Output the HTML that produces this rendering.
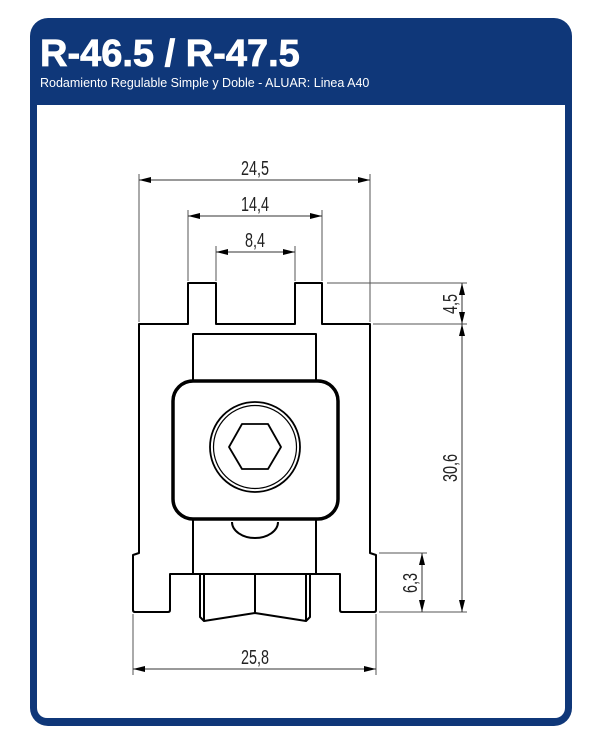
<!DOCTYPE html>
<html><head><meta charset="utf-8"><style>
html,body{margin:0;padding:0;background:#fff;width:600px;height:750px;overflow:hidden}
</style></head><body>
<svg width="600" height="750" viewBox="0 0 600 750" xmlns="http://www.w3.org/2000/svg">
<defs>
<marker id="a" viewBox="0 0 12 6" refX="12" refY="3" markerWidth="12" markerHeight="6" orient="auto-start-reverse" markerUnits="userSpaceOnUse"><path d="M0,0 L12,3 L0,6 Z" fill="#000"/></marker>
</defs>
<rect x="30" y="18" width="542" height="708" rx="18" fill="#0f3779"/>
<rect x="37" y="105" width="528" height="613" rx="10" fill="#fff"/>
<rect x="37" y="105" width="528" height="20" fill="#fff"/>
<text x="40" y="66" font-family="Liberation Sans, sans-serif" font-weight="bold" font-size="38" fill="#fff" stroke="#fff" stroke-width="0.8">R-46.5 / R-47.5</text>
<text x="40" y="87" font-family="Liberation Sans, sans-serif" font-size="12.5" fill="#fff">Rodamiento Regulable Simple y Doble - ALUAR: Linea A40</text>

<g stroke="#555" stroke-width="1" fill="none">
<line x1="139" y1="174" x2="139" y2="322"/>
<line x1="370" y1="174" x2="370" y2="322"/>
<line x1="188" y1="210" x2="188" y2="281"/>
<line x1="322" y1="210" x2="322" y2="281"/>
<line x1="216" y1="246" x2="216" y2="281"/>
<line x1="295" y1="246" x2="295" y2="281"/>
<line x1="133" y1="614" x2="133" y2="675"/>
<line x1="376" y1="614" x2="376" y2="675"/>
<line x1="327" y1="283" x2="467" y2="283"/>
<line x1="373" y1="324" x2="467" y2="324"/>
<line x1="379" y1="553" x2="427" y2="553"/>
<line x1="379" y1="612" x2="467" y2="612"/>
</g>
<g stroke="#333" stroke-width="1" marker-start="url(#a)" marker-end="url(#a)">
<line x1="139" y1="180" x2="370" y2="180"/>
<line x1="188" y1="216" x2="322" y2="216"/>
<line x1="216" y1="252" x2="295" y2="252"/>
<line x1="133" y1="669" x2="376" y2="669"/>
<line x1="462" y1="283" x2="462" y2="324"/>
<line x1="462" y1="324" x2="462" y2="612"/>
<line x1="422" y1="553" x2="422" y2="612"/>
</g>
<g font-family="Liberation Sans, sans-serif" font-size="20" fill="#222" text-anchor="middle">
<text transform="translate(255,175) scale(0.72,1)">24,5</text>
<text transform="translate(255,211) scale(0.72,1)">14,4</text>
<text transform="translate(255,247) scale(0.72,1)">8,4</text>
<text transform="translate(255,664) scale(0.72,1)">25,8</text>
<text transform="translate(457,304) rotate(-90) scale(0.72,1)">4,5</text>
<text transform="translate(457,468) rotate(-90) scale(0.72,1)">30,6</text>
<text transform="translate(417,583) rotate(-90) scale(0.72,1)">6,3</text>
</g>

<g stroke="#000" fill="none" stroke-width="2" stroke-linejoin="round">
<path d="M139,553 L139,324 L188,324 L188,283 L216,283 L216,324 L295,324 L295,283 L322,283 L322,324 L370,324 L370,553 L376,555 L376,610 Q376,612 374,612 L342,612 Q340,612 340,610 L340,574 L170,574 L170,610 Q170,612 168,612 L135,612 Q133,612 133,610 L133,555 Z"/>
<path d="M193,381 L193,334 L316,334 L316,381"/>
<line x1="193" y1="519" x2="193" y2="574"/>
<line x1="316" y1="519" x2="316" y2="574"/>
<path d="M232,522 A23,16 0 0 0 278,522"/>
<rect x="173" y="381" width="165" height="138" rx="20" stroke-width="3.5"/>
<circle cx="255" cy="447" r="45" stroke-width="1.8"/>
<circle cx="255" cy="447" r="41.5" stroke-width="1.2"/>
<polygon points="229,447 242,424 268,424 281,447 268,469 242,469" stroke-width="1.8"/>
<path d="M200,574 L200,617 L204,621 L255,613 L306,621 L310,617 L310,574"/>
<line x1="204" y1="574" x2="204" y2="621"/>
<line x1="306" y1="574" x2="306" y2="621"/>
<line x1="255" y1="574" x2="255" y2="613"/>
</g>
</svg>
</body></html>
